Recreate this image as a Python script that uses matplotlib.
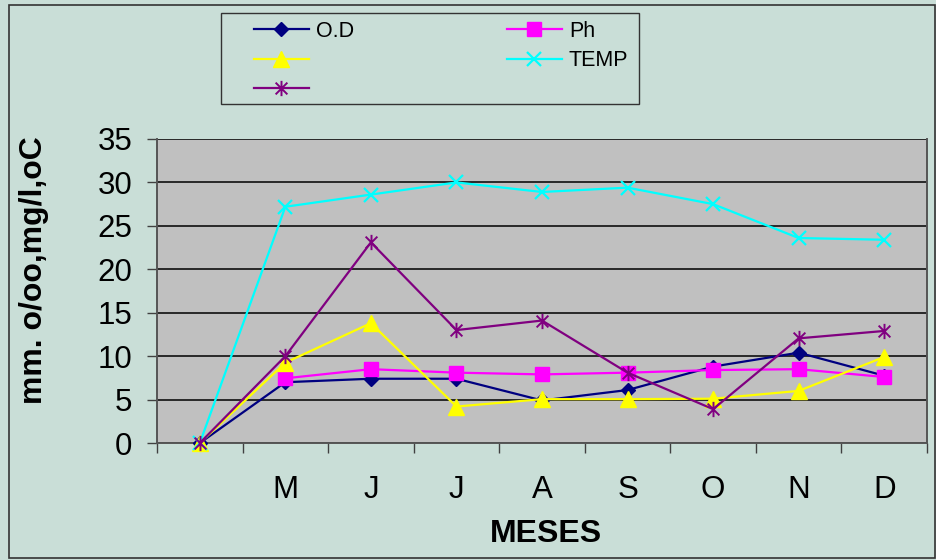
"""
Monthly water-quality chart (O.D, Ph, TEMP ...) in the old Excel look.
"""

import matplotlib.pyplot as plt
from matplotlib.patches import Rectangle
from matplotlib.path import Path
import numpy as np

months = ["", "M", "J", "J", "A", "S", "O", "N", "D"]
od = [0, 7.0, 7.4, 7.4, 4.9, 6.1, 8.8, 10.4, 7.75]
ph = [np.nan, 7.45, 8.5, 8.1, 7.9, 8.1, 8.4, 8.5, 7.6]
yellow_s = [0, 9.25, 13.8, 4.2, 5.05, 5.05, 5.1, 6.0, 9.9]
temp = [0, 27.2, 28.6, 30.0, 28.9, 29.4, 27.5, 23.6, 23.4]
purple_s = [0, 10.0, 23.1, 13.0, 14.1, 8.1, 3.9, 12.05, 12.9]
legend_labels = ["O.D", " ", " ", "Ph", "TEMP"]

BG = "#c9ded7"
PLOT_BG = "#c0c0c0"

plt.rcParams["font.family"] = ["Liberation Sans", "DejaVu Sans"]

# asterisk marker: an x with a vertical bar through it
asterisk = Path(
    [(-1, -1), (1, 1), (-1, 1), (1, -1), (0, -1.3), (0, 1.3)],
    [Path.MOVETO, Path.LINETO, Path.MOVETO, Path.LINETO, Path.MOVETO, Path.LINETO],
)

fig = plt.figure(figsize=(9.37, 5.6), dpi=100, facecolor=BG)
ax = fig.add_axes([0.1676, 0.2089, 0.8217, 0.5429])
ax.set_facecolor(PLOT_BG)

x = np.arange(len(months))
kw = dict(lw=1.6, clip_on=False, zorder=3)
l_od, = ax.plot(x, od, color="#000080", marker="D", ms=7.5, **kw)
l_ph, = ax.plot(x, ph, color="#ff00ff", marker="s", ms=10, **kw)
l_ye, = ax.plot(x, yellow_s, color="#ffff00", marker="^", ms=11, **kw)
l_te, = ax.plot(x, temp, color="#00ffff", marker="x", ms=10, mew=1.6, **kw)
l_pu, = ax.plot(x, purple_s, color="#800080", marker=asterisk, ms=11, mew=1.4,
                mfc="none", **kw)

ax.set_xlim(-0.5, len(months) - 0.5)
ax.set_ylim(0, 35)
ax.set_yticks(np.arange(0, 36, 5))
ax.yaxis.grid(True, color="black", lw=1.1)
ax.set_axisbelow(True)

ax.set_xticks(x)
ax.set_xticklabels(months)
ax.set_xticks(np.arange(-0.5, len(months)), minor=True)
ax.tick_params(axis="x", which="major", length=0, pad=23, labelsize=22.5)
ax.tick_params(axis="x", which="minor", length=7, width=1, color="#404040")
ax.tick_params(axis="y", length=7, width=1, color="#404040", labelsize=22.5, pad=11)

for side in ["left", "right", "bottom"]:
    ax.spines[side].set_color("#555555")
    ax.spines[side].set_linewidth(1.4)
ax.spines["top"].set_visible(False)

ax.set_xlabel("MESES", fontsize=23, fontweight="bold")
ax.xaxis.set_label_coords(0.505, -0.25)
ax.xaxis.label.set_va("top")
ax.set_ylabel("mm. o/oo,mg/l,oC", fontsize=23, fontweight="bold")
ax.yaxis.set_label_coords(-0.16, 0.57)
ax.yaxis.label.set_va("center")

# legend: frameless entries plus a separate box like the Excel one
handles = [l_od, l_ye, l_pu, l_ph, l_te]
leg = fig.legend(
    handles, legend_labels, ncol=2,
    loc="upper left", bbox_to_anchor=(254 / 937, 1 - 21 / 560),
    fontsize=15.5, frameon=False,
    handlelength=2.55, handletextpad=0.33, columnspacing=7.1,
    labelspacing=0.38, borderpad=0, borderaxespad=0,
)
fig.patches.append(Rectangle((221 / 937, 1 - 104 / 560), 418 / 937, 91 / 560,
                             transform=fig.transFigure, fill=False,
                             edgecolor="#333333", lw=1.0))

# figure frame
fig.patches.append(Rectangle((9 / 937, 2 / 560), 926 / 937, 553 / 560,
                             transform=fig.transFigure, fill=False,
                             edgecolor="#333333", lw=1.2))

fig.savefig("out.png", dpi=100, facecolor=BG)
